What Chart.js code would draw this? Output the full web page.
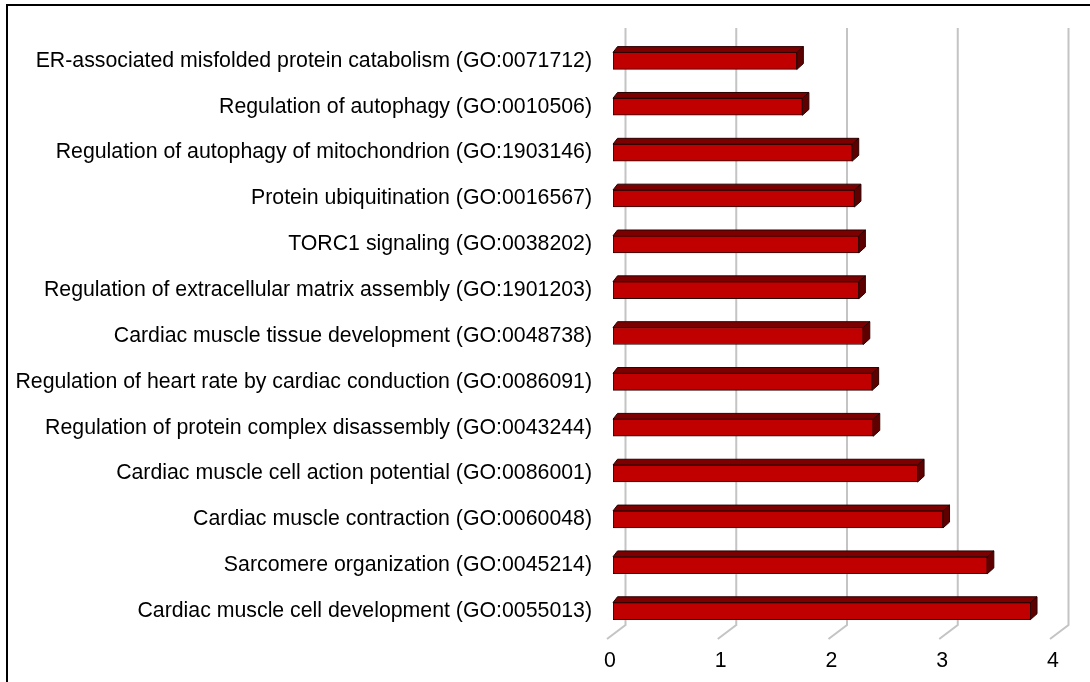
<!DOCTYPE html>
<html><head><meta charset="utf-8">
<script src="https://cdn.jsdelivr.net/npm/chart.js@4.4.1/dist/chart.umd.min.js"></script>
<style>html,body{margin:0;padding:0;background:#fff}#wrap{width:1090px;height:682px;position:relative}</style>
</head><body><div id="wrap"><canvas id="c" width="1090" height="682"></canvas></div>
<script>
const categories = [
  "ER-associated misfolded protein catabolism (GO:0071712)",
  "Regulation of autophagy (GO:0010506)",
  "Regulation of autophagy of mitochondrion (GO:1903146)",
  "Protein ubiquitination (GO:0016567)",
  "TORC1 signaling (GO:0038202)",
  "Regulation of extracellular matrix assembly (GO:1901203)",
  "Cardiac muscle tissue development (GO:0048738)",
  "Regulation of heart rate by cardiac conduction (GO:0086091)",
  "Regulation of protein complex disassembly (GO:0043244)",
  "Cardiac muscle cell action potential (GO:0086001)",
  "Cardiac muscle contraction (GO:0060048)",
  "Sarcomere organization (GO:0045214)",
  "Cardiac muscle cell development (GO:0055013)"
];
const scores = [1.66, 1.71, 2.16, 2.18, 2.22, 2.22, 2.26, 2.34, 2.35, 2.75, 2.98, 3.38, 3.77];
const xTicks = [0, 1, 2, 3, 4];

const FONT = "'Liberation Sans', Arial, sans-serif";

const frame3d = {
  id: 'frame3d',
  beforeDraw(chart) {
    const ctx = chart.ctx;
    ctx.save();
    ctx.fillStyle = '#fff';
    ctx.fillRect(0, 0, chart.width, chart.height);
    ctx.restore();
  },
  beforeDatasetsDraw(chart) {
    const ctx = chart.ctx, a = chart.chartArea, xs = chart.scales.x;
    const backDx = 12.5, frontDx = -6;
    const topY = a.top - 10, backY = a.bottom - 9, frontY = a.bottom + 5;
    ctx.save();
    xs.ticks.forEach(t => {
      const px = xs.getPixelForValue(t.value);
      ctx.beginPath();
      ctx.moveTo(px + backDx, topY);
      ctx.lineTo(px + backDx, backY);
      ctx.lineTo(px + frontDx, frontY);
      ctx.strokeStyle = '#c4c4c4';
      ctx.lineWidth = 2;
      ctx.stroke();
    });
    ctx.restore();
  },
  afterDatasetsDraw(chart) {
    const ctx = chart.ctx;
    const meta = chart.getDatasetMeta(0);
    const dxL = 4.5, dxR = 6.5, dy = 5.8;
    ctx.save();
    ctx.lineWidth = 1;
    ctx.strokeStyle = '#2a0000';
    ctx.lineJoin = 'round';
    meta.data.forEach(bar => {
      const p = bar.getProps(['x', 'y', 'base', 'height'], true);
      const l = Math.min(p.base, p.x), r = Math.max(p.base, p.x);
      const t = p.y - p.height / 2, b = p.y + p.height / 2;
      // top face
      ctx.beginPath();
      ctx.moveTo(l, t); ctx.lineTo(r, t); ctx.lineTo(r + dxR, t - dy); ctx.lineTo(l + dxL, t - dy); ctx.closePath();
      ctx.fillStyle = '#7d0000'; ctx.fill(); ctx.stroke();
      // side face
      ctx.beginPath();
      ctx.moveTo(r, t); ctx.lineTo(r + dxR, t - dy); ctx.lineTo(r + dxR, b - dy); ctx.lineTo(r, b); ctx.closePath();
      ctx.fillStyle = '#5e0000'; ctx.fill(); ctx.stroke();
    });
    ctx.restore();
  },
  afterDraw(chart) {
    const ctx = chart.ctx;
    ctx.save();
    ctx.strokeStyle = '#000';
    ctx.lineWidth = 2;
    ctx.strokeRect(7, 5, chart.width + 20, chart.height + 20);
    ctx.restore();
  }
};

new Chart(document.getElementById('c'), {
  type: 'bar',
  data: {
    labels: categories,
    datasets: [{
      data: scores,
      backgroundColor: '#c00000',
      borderColor: '#2a0000',
      borderWidth: 1,
      borderSkipped: false,
      barThickness: 17
    }]
  },
  options: {
    indexAxis: 'y',
    responsive: false,
    animation: false,
    devicePixelRatio: 1,
    layout: { padding: { top: 38, right: 34, bottom: 0, left: 0 } },
    plugins: { legend: { display: false }, tooltip: { enabled: false } },
    scales: {
      x: {
        type: 'linear', min: 0, max: 4,
        afterBuildTicks(s) { s.ticks = xTicks.map(v => ({ value: v })); },
        afterFit(s) { s.height = 48; },
        grid: { display: false, drawTicks: false },
        border: { display: false },
        ticks: { color: '#000', font: { family: FONT, size: 21.3 }, padding: 14, labelOffset: -3 }
      },
      y: {
        afterFit(s) { s.width = 613; },
        grid: { display: false, drawTicks: false },
        border: { display: false },
        ticks: { color: '#000', font: { family: FONT, size: 21.3 }, padding: 21, autoSkip: false }
      }
    }
  },
  plugins: [frame3d]
});
</script></body></html>
